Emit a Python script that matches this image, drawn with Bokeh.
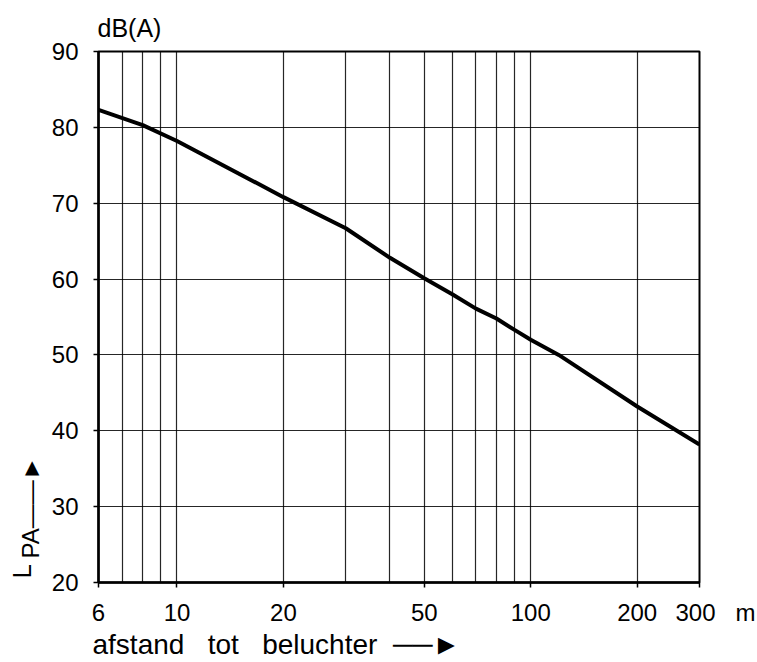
from bokeh.plotting import figure
from bokeh.models import FixedTicker, Range1d, Title
from bokeh.embed import file_html
from bokeh.resources import INLINE

# data
distance_m = [6, 8, 10, 20, 30, 40, 50, 60, 70, 80, 90, 100, 120, 200, 300]
lpa_dba = [82.3, 80.3, 78.2, 70.8, 66.7, 62.8, 60.1, 58.0, 56.1, 54.8, 53.3, 52.0, 50.0, 43.2, 38.2]

x_ticks = [6, 10, 20, 50, 100, 200, 300]
x_tick_labels = ["6", "10", "20", "50", "100", "200", "300 m"]
x_grid = [6, 7, 8, 9, 10, 20, 30, 40, 50, 60, 70, 80, 90, 100, 200, 300]
y_ticks = [20, 30, 40, 50, 60, 70, 80, 90]

FONT = "Liberation Sans"
NB = "\u00a0"

p = figure(width=755, height=660, x_axis_type="log",
           x_range=Range1d(6, 300), y_range=Range1d(20, 90),
           output_backend="svg", toolbar_location=None,
           min_border_left=98, min_border_right=56,
           min_border_top=51, min_border_bottom=78)
p.background_fill_color = "white"
p.border_fill_color = "white"
p.outline_line_color = "black"
p.outline_line_width = 2

# axes
p.xaxis.ticker = FixedTicker(ticks=x_ticks)
labels = {}
for t, s in zip(x_ticks, x_tick_labels):
    if s.endswith(" m"):
        s = NB * 6 + s.replace(" m", NB * 3 + "m")
    labels[t] = s
p.xaxis.major_label_overrides = labels
p.yaxis.ticker = FixedTicker(ticks=y_ticks)
p.yaxis.major_label_overrides = {t: str(t) for t in y_ticks}
for ax in (p.xaxis[0], p.yaxis[0]):
    ax.axis_line_color = "black"
    ax.axis_line_width = 2.5
    ax.major_tick_line_color = "black"
    ax.major_tick_line_width = 1.5
    ax.major_tick_out = 5
    ax.major_tick_in = 0
    ax.minor_tick_line_color = None
    ax.major_label_text_font = FONT
    ax.major_label_text_font_size = "24px"
    ax.major_label_text_color = "black"
p.xaxis.major_label_standoff = 11
p.yaxis.major_label_standoff = 15

# grid
p.xgrid.ticker = FixedTicker(ticks=x_grid)
p.ygrid.ticker = FixedTicker(ticks=y_ticks)
for g in (p.xgrid[0], p.ygrid[0]):
    g.grid_line_color = "black"
    g.grid_line_alpha = 0.85
    g.grid_line_width = 1.2

# curve
p.line(distance_m, lpa_dba, line_color="black", line_width=4)

# texts around the plot
p.title.text = "dB(A)"
p.title.align = "left"
p.title.offset = -1
p.title.standoff = 19
p.title.text_font = FONT
p.title.text_font_size = "25px"
p.title.text_font_style = "normal"
p.title.text_color = "black"

def side_title(text, place, size, offset, standoff):
    t = Title(text=text, align="left", offset=offset, standoff=standoff,
              text_font=FONT, text_font_size=size, text_font_style="normal",
              text_color="black")
    p.add_layout(t, place)

side_title("afstand" + NB * 3 + "tot" + NB * 3 + "beluchter" + NB * 2 + "\u2500\u2500\u25ba",
           "below", "28px", -6, -3)
side_title("PA\u2014\u2014\u25ba", "left", "24px", 24, 10)
side_title("L", "left", "26px", 4, -54)

open("out.html", "w").write(file_html(p, INLINE))
